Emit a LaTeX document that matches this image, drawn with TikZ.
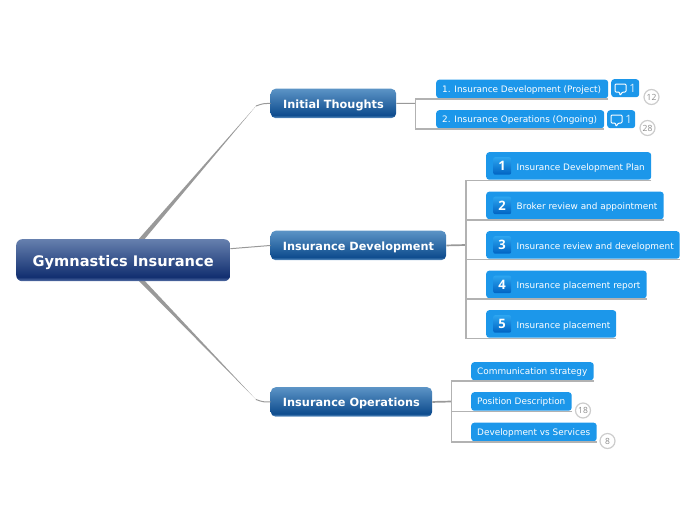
\documentclass[tikz,border=0pt]{standalone}
\usepackage{fontspec}
\setmainfont{DejaVu Sans}
\newfontfamily\numfont{Open Sans}
\usetikzlibrary{calc}
\definecolor{rootedge}{HTML}{5872A8}
\definecolor{rootdark}{HTML}{122F70}
\definecolor{roottop}{HTML}{6680AE}
\definecolor{branchedge}{HTML}{6A9ACA}
\definecolor{branchdark}{HTML}{0E4C8E}
\definecolor{branchtop}{HTML}{5C94C6}
\definecolor{badgedark}{HTML}{0063C2}
\definecolor{badgetop}{HTML}{2CA5F0}
\definecolor{leafblue}{HTML}{1C97EA}
\definecolor{linegray}{HTML}{B2B2B2}
\definecolor{maingray}{HTML}{999999}
\pgfdeclareverticalshading{rootshade}{100bp}{color(0bp)=(rootedge);color(25bp)=(rootedge);color(30bp)=(rootdark);color(75bp)=(roottop);color(100bp)=(roottop)}
\pgfdeclareverticalshading{branchshade}{100bp}{color(0bp)=(branchedge);color(25bp)=(branchedge);color(30bp)=(branchdark);color(75bp)=(branchtop);color(100bp)=(branchtop)}
\pgfdeclareverticalshading{badgeshade}{100bp}{color(0bp)=(badgedark);color(25bp)=(badgedark);color(75bp)=(badgetop);color(100bp)=(badgetop)}
\newcommand\ct[2]{\makebox[#1pt][l]{#2}}
\tikzset{
  rootbox/.style={shade,shading=rootshade,rounded corners=6pt,anchor=north west,text=white,font=\fontsize{14.6}{16}\bfseries,inner sep=0pt,text height=12pt,text depth=0pt},
  branchbox/.style={shade,shading=branchshade,rounded corners=5pt,anchor=north west,text=white,font=\fontsize{11.3}{13}\bfseries,inner sep=0pt,text height=9.4pt,text depth=0pt},
  leafbox/.style={fill=leafblue,rounded corners=3pt,anchor=north west,text=white,font=\fontsize{8.9}{10}\selectfont,inner xsep=6pt,inner ysep=0pt,text height=8.2pt,text depth=0pt},
  smallleaf/.style={leafbox,text height=6.6pt},
  iconbox/.style={fill=leafblue,rounded corners=3pt,anchor=north west,inner sep=0pt},
  badge/.style={shade,shading=badgeshade,rounded corners=2pt,anchor=north west,minimum width=18pt,minimum height=17.5pt,inner sep=0pt,text=white,font=\numfont\fontsize{13}{13}\bfseries},
  countmark/.style={circle,draw=black!20,line width=1.2pt,fill=white,minimum size=15pt,inner sep=0pt,text=black!45,font=\numfont\fontsize{8.5}{8.5}\selectfont},
  bracket/.style={draw=linegray,line width=1.2pt},
  feed/.style={draw=maingray,line width=1.7pt},
  thin link/.style={draw=maingray,line width=1pt},
  bub/.pic={\draw[white,line width=1pt,rounded corners=1pt,fill=leafblue] (0,0) -- (11,0) -- (11,8) -- (7.5,8) -- (5,11.5) -- (4.5,8) -- (0,8) -- cycle;}
}
\begin{document}
\begin{tikzpicture}[x=1pt,y=-1pt]
\useasboundingbox (0,0) rectangle (696,520);
% main tapered connectors (under the root)
\coordinate (upa) at (137,241);
\coordinate (upb) at (143,241);
\coordinate (upk) at (256,106);
\coordinate (upm) at (263,103.5);
\coordinate (lowa) at (137,279);
\coordinate (lowb) at (143,279);
\coordinate (lowk) at (256,399.5);
\coordinate (lowm) at (263,402);
\fill[maingray] (upa) -- (upb) -- (upk) -- cycle;
\fill[maingray] (lowa) -- (lowb) -- (lowk) -- cycle;
% root and branches
\node[rootbox,minimum width=214pt,minimum height=42pt] (root) at (16,239) {Gymnastics Insurance};
\node[branchbox,minimum width=125.5pt,minimum height=29.5pt] (it) at (270.5,88.5) {Initial Thoughts};
\node[branchbox,minimum width=175.5pt,minimum height=29.5pt] (id) at (270.5,230.5) {Insurance Development};
\node[branchbox,minimum width=161.5pt,minimum height=29.5pt] (io) at (270.5,387) {Insurance Operations};
\draw[thin link] (upk) .. controls (upm) .. (it.west);
\draw[thin link] (lowk) .. controls (lowm) .. (io.west);
\draw[thin link] ([yshift=11.5pt]root.east) -- (id.west);
% initial thoughts children
\node[smallleaf,minimum width=172pt,minimum height=18.5pt] (a1) at (436,79.5) {\ct{160}{1. Insurance Development (Project)}};
\node[smallleaf,minimum width=168pt,minimum height=18pt] (a2) at (436,110) {\ct{156}{2. Insurance Operations (Ongoing)}};
\node[iconbox,minimum width=28pt,minimum height=18pt] (ic1) at (611,79) {};
\node[iconbox,minimum width=28pt,minimum height=18pt] (ic2) at (607,110) {};
\pic at ($(ic1.north west)+(4,5)$) {bub};
\pic at ($(ic2.north west)+(4,5)$) {bub};
\node[text=white!85!leafblue,font=\numfont\fontsize{11.5}{11.5}\selectfont,inner sep=0pt] (ic1n) at ($(ic1.center)+(7.5,0.5)$) {1};
\node[text=white!85!leafblue,font=\numfont\fontsize{11.5}{11.5}\selectfont,inner sep=0pt] (ic2n) at ($(ic2.center)+(7.5,0.5)$) {1};
\node[countmark] (m12) at (651.5,97) {12};
\node[countmark] (m28) at (647.5,128) {28};
% development children
\node[leafbox,minimum width=165pt,minimum height=27.5pt] (b1) at (486,152) {\ct{153}{\hspace*{24.5pt}Insurance Development Plan}};
\node[leafbox,minimum width=177.5pt,minimum height=27.5pt] (b2) at (486,191.5) {\ct{165.5}{\hspace*{24.5pt}Broker review and appointment}};
\node[leafbox,minimum width=193.5pt,minimum height=27.5pt] (b3) at (486,231) {\ct{181.5}{\hspace*{24.5pt}Insurance review and development}};
\node[leafbox,minimum width=160.5pt,minimum height=27.5pt] (b4) at (486,270.5) {\ct{148.5}{\hspace*{24.5pt}Insurance placement report}};
\node[leafbox,minimum width=130pt,minimum height=27.5pt] (b5) at (486,310) {\ct{118}{\hspace*{24.5pt}Insurance placement}};
\foreach \k in {1,...,5}{
  \node[badge] (n\k) at ($(b\k.north west)+(7,5)$) {\k};
}
% operations children
\node[smallleaf,minimum width=122.5pt,minimum height=18pt] (c1) at (471,362) {\ct{110.5}{Communication strategy}};
\node[smallleaf,minimum width=100.5pt,minimum height=18.5pt] (c2) at (471,392) {\ct{88.5}{Position Description}};
\node[smallleaf,minimum width=125.5pt,minimum height=18.5pt] (c3) at (471,422.5) {\ct{113.5}{Development vs Services}};
\node[countmark] (m18) at (583,410.5) {18};
\node[countmark] (m8) at (607.5,441) {8};
% brackets
\coordinate (bra) at (415.5,103.3);
\coordinate (brb) at (466,245);
\coordinate (brc) at (451.5,401.5);
\draw[thin link] (it.east) -- (bra);
\draw[feed] (id.east) -- (brb);
\draw[feed] (io.east) -- (brc);
\draw[bracket] ([yshift=-.5pt]a1.south east) -- ([yshift=-.5pt]a1.south -| bra) -- ([yshift=-.5pt]a2.south -| bra) -- ([yshift=-.5pt]a2.south east);
\draw[bracket] ([yshift=-.5pt]b1.south east) -- ([yshift=-.5pt]b1.south -| brb) -- ([yshift=-.5pt]b5.south -| brb) -- ([yshift=-.5pt]b5.south east);
\foreach \k in {2,3,4}{
  \draw[bracket] ([yshift=-.5pt]b\k.south -| brb) -- ([yshift=-.5pt]b\k.south east);
}
\draw[bracket] ([yshift=-.5pt]c1.south east) -- ([yshift=-.5pt]c1.south -| brc) -- ([yshift=-.5pt]c3.south -| brc) -- ([yshift=-.5pt]c3.south east);
\draw[bracket] ([yshift=-.5pt]c2.south -| brc) -- ([yshift=-.5pt]c2.south east);
\end{tikzpicture}
\end{document}
